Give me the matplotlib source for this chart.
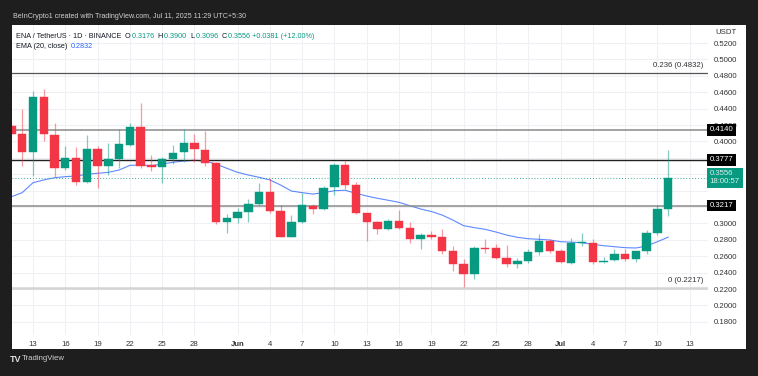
import matplotlib
matplotlib.use("Agg")
import matplotlib.pyplot as plt
import matplotlib.dates as mdates
from matplotlib.patches import Rectangle
import datetime as dt

plt.rcParams['font.family'] = ['Liberation Sans', 'DejaVu Sans']

# ---------------- data ----------------
start = dt.date(2025, 5, 11)
dates = [start + dt.timedelta(days=i) for i in range(62)]

opens = [0.4190, 0.4090, 0.3874, 0.4545, 0.4082, 0.3680, 0.3794, 0.3500, 0.3904, 0.3704,
         0.3782, 0.3956, 0.4172, 0.3712, 0.3688, 0.3785, 0.3867, 0.3985, 0.3900, 0.3733,
         0.3017, 0.3062, 0.3139, 0.3233, 0.3380, 0.3150, 0.2838, 0.3020, 0.3216, 0.3176,
         0.3444, 0.3708, 0.3468, 0.3123, 0.3013, 0.2928, 0.3033, 0.2948, 0.2810, 0.2858,
         0.2834, 0.2663, 0.2508, 0.2387, 0.2700, 0.2696, 0.2582, 0.2508, 0.2541, 0.2655,
         0.2785, 0.2667, 0.2520, 0.2760, 0.2765, 0.2535, 0.2557, 0.2623, 0.2570, 0.2663,
         0.2880, 0.3176]
highs = [0.4250, 0.4395, 0.4615, 0.4635, 0.4220, 0.3944, 0.3930, 0.4078, 0.3940, 0.3985,
         0.4148, 0.4228, 0.4470, 0.3834, 0.3814, 0.3956, 0.4148, 0.4087, 0.4127, 0.3752,
         0.3110, 0.3192, 0.3298, 0.3490, 0.3557, 0.3224, 0.3100, 0.3367, 0.3236, 0.3456,
         0.3733, 0.3773, 0.3510, 0.3130, 0.3025, 0.3050, 0.3163, 0.3020, 0.2880, 0.2907,
         0.2932, 0.2724, 0.2570, 0.2724, 0.2806, 0.2745, 0.2733, 0.2574, 0.2683, 0.2867,
         0.2806, 0.2690, 0.2826, 0.2880, 0.2810, 0.2587, 0.2683, 0.2683, 0.2665, 0.2920,
         0.3224, 0.3900]
lows = [0.4050, 0.3704, 0.3580, 0.4005, 0.3570, 0.3648, 0.3470, 0.3490, 0.3435, 0.3590,
        0.3680, 0.3950, 0.3680, 0.3639, 0.3496, 0.3720, 0.3750, 0.3745, 0.3704, 0.2990,
        0.2880, 0.3000, 0.3013, 0.3225, 0.3123, 0.2830, 0.2830, 0.3010, 0.3120, 0.3165,
        0.3346, 0.3420, 0.3110, 0.2790, 0.2875, 0.2920, 0.2930, 0.2757, 0.2688, 0.2815,
        0.2627, 0.2423, 0.2225, 0.2318, 0.2643, 0.2562, 0.2472, 0.2460, 0.2520, 0.2615,
        0.2635, 0.2520, 0.2505, 0.2724, 0.2505, 0.2520, 0.2545, 0.2545, 0.2530, 0.2627,
        0.2860, 0.3096]
closes = [0.4090, 0.3870, 0.4545, 0.4087, 0.3680, 0.3794, 0.3500, 0.3904, 0.3700, 0.3785,
          0.3965, 0.4172, 0.3704, 0.3684, 0.3785, 0.3862, 0.3977, 0.3904, 0.3733, 0.3020,
          0.3062, 0.3139, 0.3233, 0.3380, 0.3150, 0.2838, 0.3020, 0.3224, 0.3176, 0.3436,
          0.3708, 0.3468, 0.3123, 0.3013, 0.2928, 0.3033, 0.2948, 0.2810, 0.2858, 0.2830,
          0.2663, 0.2508, 0.2387, 0.2696, 0.2693, 0.2582, 0.2505, 0.2541, 0.2655, 0.2785,
          0.2667, 0.2529, 0.2765, 0.2768, 0.2533, 0.2545, 0.2623, 0.2570, 0.2663, 0.2880,
          0.3176, 0.3556]
ema20 = [0.3326, 0.3375, 0.3496, 0.3530, 0.3557, 0.3570, 0.3578, 0.3599, 0.3611, 0.3623,
         0.3651, 0.3708, 0.3712, 0.3704, 0.3724, 0.3745, 0.3761, 0.3770, 0.3761, 0.3724,
         0.3672, 0.3623, 0.3590, 0.3562, 0.3530, 0.3468, 0.3395, 0.3375, 0.3358, 0.3375,
         0.3399, 0.3404, 0.3367, 0.3334, 0.3306, 0.3282, 0.3257, 0.3216, 0.3176, 0.3145,
         0.3102, 0.3041, 0.2972, 0.2948, 0.2928, 0.2895, 0.2858, 0.2830, 0.2813, 0.2806,
         0.2798, 0.2777, 0.2771, 0.2765, 0.2745, 0.2728, 0.2716, 0.2704, 0.2700, 0.2724,
         0.2777, 0.2832]

fib_levels = [0.4832, 0.2217]
fib_labels = ["0.236 (0.4832)", "0 (0.2217)"]
levels = [0.4140, 0.3777, 0.3217]
level_labels = ["0.4140", "0.3777", "0.3217"]
last_price = 0.3556
countdown = "18:00:57"

yticks = [0.18, 0.20, 0.22, 0.24, 0.26, 0.28, 0.30, 0.32, 0.34, 0.36, 0.38, 0.40,
          0.42, 0.44, 0.46, 0.48, 0.50, 0.52]
hidden_ylabels = [0.32, 0.34, 0.36, 0.38]   # covered by the price boxes
xtick_dates = [dt.date(2025, 5, 13), dt.date(2025, 5, 16), dt.date(2025, 5, 19),
               dt.date(2025, 5, 22), dt.date(2025, 5, 25), dt.date(2025, 5, 28),
               dt.date(2025, 6, 1), dt.date(2025, 6, 4), dt.date(2025, 6, 7),
               dt.date(2025, 6, 10), dt.date(2025, 6, 13), dt.date(2025, 6, 16),
               dt.date(2025, 6, 19), dt.date(2025, 6, 22), dt.date(2025, 6, 25),
               dt.date(2025, 6, 28), dt.date(2025, 7, 1), dt.date(2025, 7, 4),
               dt.date(2025, 7, 7), dt.date(2025, 7, 10), dt.date(2025, 7, 13)]
xtick_labels = ["13", "16", "19", "22", "25", "28", "Jun", "4", "7", "10", "13",
                "16", "19", "22", "25", "28", "Jul", "4", "7", "10", "13"]

# ---------------- style ----------------
GREEN = "#089981"
RED = "#f23645"
W, H = 758, 376

fig = plt.figure(figsize=(W / 100, H / 100), dpi=100)
fig.patch.set_facecolor("#1e1e1e")

# white panel
fig.patches.append(Rectangle((12 / W, 1 - 349 / H), (746 - 12) / W, (349 - 25) / H,
                             transform=fig.transFigure, facecolor="white",
                             edgecolor="none", zorder=-5))

ax_l, ax_r, ax_t, ax_b = 12, 708, 25, 335
ax = fig.add_axes([ax_l / W, 1 - ax_b / H, (ax_r - ax_l) / W, (ax_b - ax_t) / H])
ax.set_zorder(2)
ax.set_facecolor("none")
for s in ax.spines.values():
    s.set_visible(False)

x = mdates.date2num(dates)
x0 = mdates.date2num(dt.date(2025, 5, 13))
ax.set_xlim(x0 - 1.95, x0 + 62.7)
ax.set_ylim(0.52 - (ax_b - 43) / 820, 0.52 + (43 - ax_t) / 820)

# grid / ticks
ax.set_yticks(yticks)
ax.set_yticklabels(["" if any(abs(v - h) < 1e-9 for h in hidden_ylabels) else f"{v:.4f}"
                    for v in yticks])
ax.set_xticks(mdates.date2num(xtick_dates))
ax.set_xticklabels(xtick_labels)
for lab, txt in zip(ax.get_xticklabels(), xtick_labels):
    if txt in ("Jun", "Jul"):
        lab.set_fontweight("bold")
ax.grid(True, color="#eef0f4", linewidth=0.8)
ax.set_axisbelow(True)
ax.yaxis.tick_right()
ax.tick_params(axis="y", length=0, pad=4, labelsize=5.6, labelcolor="#333333")
ax.tick_params(axis="x", length=0, pad=4, labelsize=5.6, labelcolor="#333333")

# EMA
ax.plot(x, ema20, color="#2962ff", linewidth=0.8, alpha=0.75, zorder=2)

# candles
for xi, o, h, l, c in zip(x, opens, highs, lows, closes):
    col = GREEN if c >= o else RED
    ax.vlines(xi, l, h, color=col, linewidth=0.9, alpha=0.5, zorder=3)
    bot = min(o, c)
    hgt = max(abs(c - o), 0.0008)
    ax.bar(xi, hgt, bottom=bot, width=0.78, color=col, edgecolor=col,
           linewidth=0.3, zorder=4)

# horizontal lines
ax.axhline(fib_levels[0], color="#555555", linewidth=0.9, zorder=2)
ax.axhline(fib_levels[1], color="#d4d4d4", linewidth=1.8, zorder=2)
ax.axhline(levels[0], color="#8a8a8a", linewidth=1.1, zorder=2)
ax.axhline(levels[1], color="#222222", linewidth=1.0, zorder=2)
ax.axhline(levels[2], color="#8a8a8a", linewidth=1.1, zorder=2)
ax.axhline(last_price, color=GREEN, linewidth=0.7, linestyle=(0, (1, 2)), alpha=0.8, zorder=2)

trans_r = ax.get_yaxis_transform()
for lv, lab in zip(fib_levels, fib_labels):
    ax.text(0.993, lv + 0.0045, lab, transform=trans_r, ha="right", va="bottom",
            fontsize=5.6, color="#333333", zorder=6)

# right-axis label boxes
for lv, lab in zip(levels, level_labels):
    ax.text(1.0025, lv, lab, transform=trans_r, ha="left", va="center", fontsize=5.6,
            color="white", zorder=10, clip_on=False,
            bbox=dict(boxstyle="square,pad=0.3", facecolor="#000000", edgecolor="none"))
ax.text(1.0025, last_price, f"{last_price:.4f}\n{countdown}", transform=trans_r,
        ha="left", va="center", fontsize=5.6, color="#d8f2ec", zorder=10, clip_on=False,
        linespacing=1.15,
        bbox=dict(boxstyle="square,pad=0.35", facecolor=GREEN, edgecolor="none"))

# USDT header on price axis
fig.text(715 / W, 1 - 33 / H, "USDT", ha="left", va="center", fontsize=5.6,
         color="#333333", zorder=10)

# legend header
fs = 5.2
y1 = 1 - 36 / H
y2 = 1 - 47 / H
parts1 = [("ENA / TetherUS · 1D · BINANCE ", "#131722"), ("O", "#131722"), ("0.3176 ", GREEN),
          ("H", "#131722"), ("0.3900 ", GREEN), ("L", "#131722"), ("0.3096 ", GREEN),
          ("C", "#131722"), ("0.3556 +0.0381 (+12.00%)", GREEN)]
renderer = fig.canvas.get_renderer()
xpos = 16 / W
for txt, col in parts1:
    t = fig.text(xpos, y1, txt, fontsize=fs, color=col, ha="left", va="center", zorder=10)
    bb = t.get_window_extent(renderer=renderer)
    xpos += bb.width / fig.bbox.width + 1.5 / W
xpos = 16 / W
for txt, col in [("EMA (20, close) ", "#131722"), ("0.2832", "#2962ff")]:
    t = fig.text(xpos, y2, txt, fontsize=fs, color=col, ha="left", va="center", zorder=10)
    bb = t.get_window_extent(renderer=renderer)
    xpos += bb.width / fig.bbox.width + 1.5 / W

# top band text and bottom logo
fig.text(13 / W, 1 - 17 / H, "BeInCrypto1 created with TradingView.com, Jul 11, 2025 11:29 UTC+5:30",
         fontsize=5.1, color="#d0d0d0", ha="left", va="center")
fig.text(10 / W, 1 - 359 / H, "TV", fontsize=6.5, fontweight="bold", color="#e0e0e0",
         ha="left", va="center")
fig.text(22 / W, 1 - 359 / H, "TradingView", fontsize=5.6, color="#d0d0d0",
         ha="left", va="center")

fig.savefig("out.png", dpi=100, facecolor=fig.get_facecolor())
